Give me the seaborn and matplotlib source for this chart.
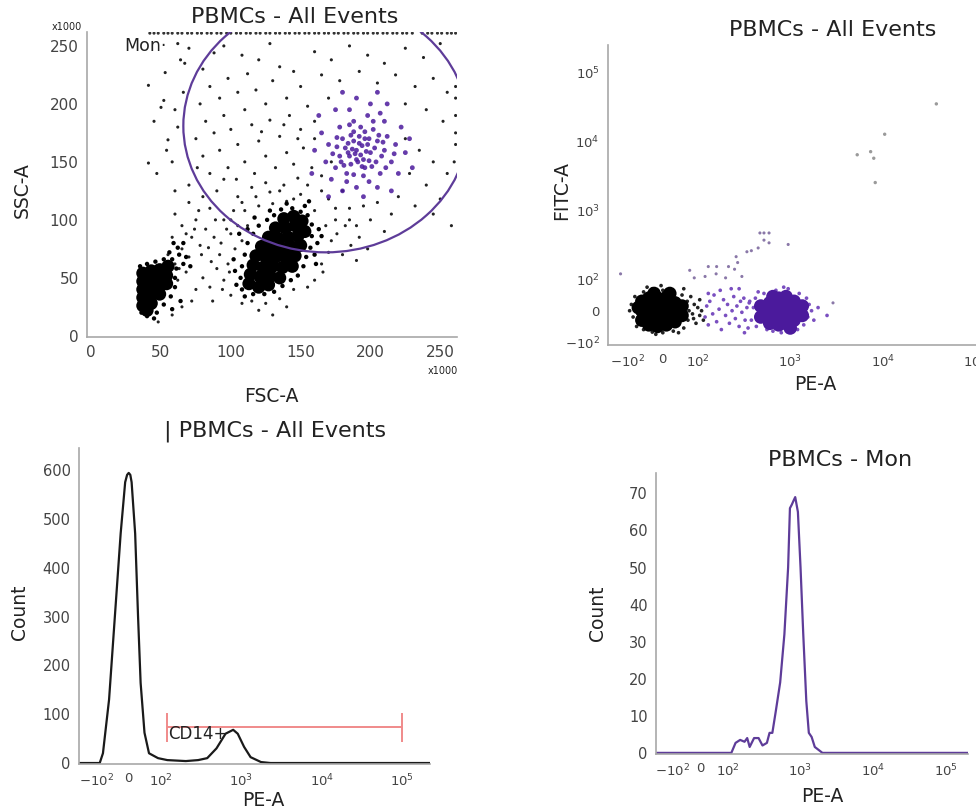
import numpy as np
import pandas as pd
import matplotlib
matplotlib.use("Agg")
import matplotlib.pyplot as plt
from matplotlib.patches import Ellipse
from matplotlib.ticker import FixedLocator, MultipleLocator
import seaborn as sns

# ------------------------------------------------------------------
# Panel 1: FSC-A vs SSC-A (values x1000), all events
# ------------------------------------------------------------------
lymph_core = [(113,45),(120,42),(127,44),(114,53),(121,51),(128,52),(135,50),(116,61),(123,59),
              (130,60),(137,59),(144,60),(118,69),(125,68),(132,68),(139,68),(146,69),(122,77),
              (129,76),(136,76),(143,77),(150,78),(127,85),(134,84),(141,85),(148,86),(153,90),
              (132,93),(139,93),(146,95),(151,99),(138,101),(145,103)]
small_core = [(37,26),(37,33),(37,40),(37,47),(37,54),(43,28),(43,35),(43,42),(43,49),(43,56),
              (49,36),(49,43),(49,50),(49,57),(54,45),(54,52),(55,60),(40,22)]
blob_halo = [(36,20),(40,17),(47,20),(52,27),(57,34),(60,42),(60,50),(61,58),(58,66),(52,66),
             (46,64),(40,62),(35,60),(56,72),(63,70),(66,62),(64,30),(58,23),(45,15),
             (108,40),(107,50),(108,60),(110,70),(112,80),(116,88),(120,95),(126,100),(131,104),
             (136,109),(144,110),(150,107),(155,104),(158,96),(158,86),(157,76),(154,68),(152,60),
             (148,52),(143,48),(137,43),(131,38),(124,36),(116,36),(110,34),(104,44),(103,56),
             (160,70),(162,80),(163,92),(153,112),(128,108),(117,102),(62,76),(68,68),(66,80),
             (59,80),(71,60),(106,88),(102,66),(161,62),(165,86),(156,116),(140,114),(112,92)]
sparse_p1 = [(41,216),(52,203),(64,238),(67,235),(53,227),(50,197),(60,195),(62,180),(55,169),
             (54,160),(41,149),(47,140),(58,150),(66,210),(45,185),(70,248),(62,252),
             (80,230),(88,244),(95,250),(108,242),(120,238),(128,252),(85,215),(98,222),(112,226),
             (135,232),(78,200),(92,205),(105,210),(118,212),(130,220),(145,228),(82,185),(95,190),
             (110,195),(125,200),(140,205),(150,215),(75,170),(88,175),(100,178),(115,182),
             (128,186),(142,190),(155,198),(80,155),(92,160),(105,165),(120,168),(135,172),
             (150,178),(160,185),(85,140),(98,145),(110,150),(125,155),(140,158),(152,162),
             (160,245),(172,238),(185,250),(198,242),(210,235),(225,248),(238,240),(250,252),
             (165,225),(178,220),(192,228),(205,218),(218,225),(232,215),(245,222),(255,210),
             (170,205),(225,200),(240,195),(252,185),(261,165),(261,175),(261,190),(261,205),
             (261,215),(260,150),(225,170),(235,160),(245,150),(255,140),(228,140),(240,130),
             (250,118),(220,120),(232,112),(245,105),(258,95),(215,105),(105,120),(115,128),
             (125,132),(135,125),(145,118),(155,130),(165,138),(110,108),(120,112),(130,114),
             (140,116),(150,122),(160,108),(170,118),(100,100),(175,100),(185,110),(180,125),
             (190,95),(200,100),(55,70),(60,62),(65,75),(70,68),(72,85),(78,78),(82,92),(88,85),
             (92,70),(95,100),(100,88),(103,75),(65,95),(58,85),(75,100),(85,110),(90,58),
             (98,62),(105,95),(68,55),(80,50),(62,48),(75,40),(85,42),(95,48),(108,82),(112,95),
             (60,105),(70,115),(80,120),(90,125),(70,130),(60,125),(100,35),(108,28),(115,30),
             (125,28),(135,32),(145,40),(155,42),(120,22),(140,25),(58,18),(65,25),(72,30),
             (48,12),(165,62),(170,72),(172,82),(176,88),(180,70),(186,78),(192,85),(166,55),
             (190,65),(168,95),(160,48),(182,95),(198,75),(130,18),(95,135),(76,145),(210,90),
             (68,88),(74,92),(79,70),(86,64),(93,80),(97,92),(102,108),(108,115),(118,120),
             (128,124),(138,130),(148,136),(158,145),(117,140),(132,145),(145,148),(104,135),
             (89,100),(77,108),(84,76),(63,58),(99,55),(94,40),(87,30),(165,125),(175,110),
             (185,100),(195,112),(205,115),(172,150),(160,170),(148,170),(138,182),(122,176)]
mon_events = [(185,155),(190,160),(195,152),(198,165),(188,168),(182,162),(200,158),(192,172),
              (186,148),(196,145),(204,150),(205,168),(178,155),(180,170),(193,180),(202,178),
              (210,160),(175,145),(183,140),(195,138),(207,140),(212,172),(188,185),(198,190),
              (178,180),(170,165),(215,150),(172,135),(190,128),(205,128),(218,165),(185,195),
              (200,200),(210,185),(168,150),(220,140),(175,195),(165,175),(212,200),(222,180),
              (180,125),(195,120),(160,160),(225,158),(170,120),(215,125),(190,205),(205,210),
              (180,210),(163,190),(228,170),(158,140),(230,145),(189,157),(194,164),(187,161),
              (197,159),(191,150),(184,166),(199,170),(201,146),(193,156),(186,173),(203,162),
              (179,150),(208,155),(196,176),(183,133),(211,145),(176,163),(190,152),(192,166),
              (196,170),(184,158),(188,176),(199,151),(206,173),(181,147),(194,146),(185,182),
              (202,185),(209,167),(176,171),(173,157),(217,157),(199,133),(188,139),(207,192)]
saturated_fsc = [42,45,48,52,55,58,62,65,69,72,76,79,83,86,90,93,97,100,104,107,111,114,118,
                 121,125,128,132,135,139,142,146,149,153,156,160,163,167,170,174,177,181,184,
                 188,191,195,198,202,205,209,212,216,219,223,226,230,237,241,244,248,251,255,258,261]
saturated_ssc = 261
mon_gate_center = (168, 181)
mon_gate_size = (204, 218)

# ------------------------------------------------------------------
# Panel 2: PE-A vs FITC-A, all events
# ------------------------------------------------------------------
neg_core = [(-60,-30),(-60,0),(-60,30),(-40,-45),(-40,-15),(-40,15),(-40,40),(-15,-50),(-15,-20),
            (-15,10),(-15,40),(10,-45),(10,-15),(10,15),(10,42),(35,-35),(35,-5),(35,25),
            (55,-15),(55,15),(-70,10),(-25,55),(20,55)]
neg_halo = [(-85,-20),(-90,20),(-80,45),(-75,-50),(-55,60),(-30,70),(0,65),(30,62),(55,50),
            (70,30),(75,0),(72,-30),(60,-55),(30,-65),(0,-70),(-30,-68),(-55,-60),(80,45),
            (85,-10),(90,20),(95,-40),(100,10),(105,35),(88,-25),(-95,0),(-20,-75),(45,-70),
            (-5,80),(60,70),(-45,75),(110,0),(115,-30),(105,-15)]
pos_core = [(480,-20),(480,15),(600,-40),(600,-8),(600,25),(750,-45),(750,-15),(750,15),(750,40),
            (900,-40),(900,-10),(900,20),(900,45),(1100,-30),(1100,0),(1100,30),(1350,-15),
            (1350,15),(650,45),(1000,-55)]
pos_halo = [(380,-30),(400,10),(420,40),(430,-50),(520,55),(560,-60),(700,65),(800,-70),(950,70),
            (1050,-65),(1250,55),(1400,-45),(1550,-20),(1600,20),(1700,0),(1500,40),(1200,-60),
            (650,-65),(850,75),(1800,-30),(2000,10),(2500,-15),(450,60),(360,25),
            (120,-20),(125,15),(130,-45),(135,30),(145,-10),(150,50),(160,-35),(170,5),(180,-60),
            (190,35),(200,-15),(210,20),(220,-40),(235,0),(245,45),(255,-25),(265,15),(280,-50),
            (290,30),(300,-5),(315,40),(325,-30),(340,10),(350,-55),(365,30),(130,55),(175,65),
            (230,70),(280,70),(320,-70)]
diag_events = [(-120,120),(77,135),(130,153),(158,120),(160,153),(215,153),(250,140),(260,213),
               (270,175),(340,251),(380,260),(450,285),(470,470),(520,470),(590,470),(590,338),
               (520,370),(950,320),(2900,25),(200,105),(300,110),(120,110),(90,105)]
bright_events = [(5300,6400),(7400,7100),(8000,5700),(8300,2530),(10500,12700),(38000,35000)]

# ------------------------------------------------------------------
# Panel 3 / 4: PE-A histograms
# ------------------------------------------------------------------
all_pe = [-165,-90,-80,-61,-43,-25,-11,-5,0,5,9,20,29,37,49,63,91,120,204,290,376,490,635,
          790,900,1080,1300,1750,2300,220000]
all_count = [0,0,20,130,300,470,575,590,594,590,575,470,300,164,62,20,10,6,4,6,10,30,60,
             68,60,33,12,2,0,0]
cd14_gate = (120, 100000)
cd14_level = 74

mon_pe = [-170,112,128,148,170,185,200,230,265,300,345,375,410,455,525,600,675,715,760,800,
          845,920,1000,1090,1200,1300,1420,1570,2000,200000]
mon_count = [0,0,2.7,3.5,3,4,1.6,4,4,2,2.7,5.4,5.4,11,19,32,50,66,67,68,69,65,50,32,14,5.4,
             4.3,1.6,0,0]

log_ticks = [-100, 0, 100, 1000, 10000, 100000]
log_labels = ['$-10^2$', '0', '$10^2$', '$10^3$', '$10^4$', '$10^5$']

PURPLE = '#4b1a9c'
GATE = '#5e3c99'
GRAY = '#a8a8a8'

sns.set_theme(style='white')
plt.rcParams['font.family'] = ['DejaVu Sans']
plt.rcParams['mathtext.fontset'] = 'dejavusans'

W, H = 976, 811
fig = plt.figure(figsize=(W / 100, H / 100), dpi=100)


def box(l, t, r, b):
    return [l / W, 1 - b / H, (r - l) / W, (b - t) / H]


def ftext(x, y, s, **kw):
    fig.text(x / W, 1 - y / H, s, ha='center', va='center', color='#222', **kw)


def pts(lst):
    return pd.DataFrame(lst, columns=['x', 'y'])


def style(ax, size=11):
    sns.despine(ax=ax)
    for s in ['left', 'bottom']:
        ax.spines[s].set_color(GRAY)
        ax.spines[s].set_linewidth(1.2)
    ax.tick_params(which='major', length=4, width=1, color=GRAY, labelcolor='#444',
                   labelsize=size, pad=2)
    ax.tick_params(which='minor', length=2.5, width=0.7, color='#c4c4c4')
    ax.set_xlabel('')
    ax.set_ylabel('')


def symlog_axis(axis, lo, hi, linscale):
    axis._set_axes_scale('symlog', linthresh=100, linscale=linscale)
    axis.set_major_locator(FixedLocator(log_ticks))
    axis.set_ticklabels(log_labels)
    minors = [m * 10 ** e for e in range(2, 6) for m in range(2, 10)]
    minors += [-m * 10 for m in range(1, 10)] + [m * 10 for m in range(1, 10)] + [-200]
    axis.set_minor_locator(FixedLocator([v for v in minors if lo <= v <= hi]))


# ---- Panel 1 ----
ax1 = fig.add_axes(box(87, 32, 457, 337))
sns.scatterplot(data=pts(sparse_p1), x='x', y='y', s=5, color='#222', edgecolor='none', ax=ax1)
sns.scatterplot(data=pts(blob_halo), x='x', y='y', s=10, color='black', edgecolor='none', ax=ax1)
sns.scatterplot(data=pts(lymph_core), x='x', y='y', s=90, color='black', edgecolor='none', ax=ax1)
sns.scatterplot(data=pts(small_core), x='x', y='y', s=90, color='black', edgecolor='none', ax=ax1)
sns.scatterplot(data=pts(mon_events), x='x', y='y', s=12, color=PURPLE, edgecolor='none',
                alpha=0.85, ax=ax1)
sns.scatterplot(x=saturated_fsc, y=[saturated_ssc] * len(saturated_fsc), s=5, color='#333',
                edgecolor='none', ax=ax1)
ax1.add_patch(Ellipse(mon_gate_center, mon_gate_size[0], mon_gate_size[1], fill=False,
                      edgecolor=GATE, linewidth=1.6, zorder=5))
ax1.set_xlim(-3, 262)
ax1.set_ylim(-1, 262)
ax1.xaxis.set_major_locator(FixedLocator([0, 50, 100, 150, 200, 250]))
ax1.yaxis.set_major_locator(FixedLocator([0, 50, 100, 150, 200, 250]))
ax1.xaxis.set_minor_locator(MultipleLocator(5))
ax1.yaxis.set_minor_locator(MultipleLocator(5))
style(ax1)
ax1.text(0.10, 0.955, 'Mon\u00b7', transform=ax1.transAxes, fontsize=12.5, color='#222',
         ha='left', va='center')
ftext(295, 17, 'PBMCs - All Events', fontsize=16)
ftext(67, 27, 'x1000', fontsize=7)
ftext(443, 371, 'x1000', fontsize=7)
ftext(22, 190, 'SSC-A', fontsize=13.5, rotation=90)
ftext(271, 396, 'FSC-A', fontsize=13.5)

# ---- Panel 2 ----
ax2 = fig.add_axes(box(608, 45, 976, 345))
sns.scatterplot(data=pts(neg_halo), x='x', y='y', s=7, color='#222', edgecolor='none', ax=ax2)
sns.scatterplot(data=pts(pos_halo), x='x', y='y', s=7, color='#7a4fc0', edgecolor='none', ax=ax2)
sns.scatterplot(data=pts(neg_core), x='x', y='y', s=95, color='black', edgecolor='none', ax=ax2)
sns.scatterplot(data=pts(pos_core), x='x', y='y', s=95, color=PURPLE, edgecolor='none', ax=ax2)
sns.scatterplot(data=pts(diag_events), x='x', y='y', s=5, color='#8a78a8', edgecolor='none', ax=ax2)
sns.scatterplot(data=pts(bright_events), x='x', y='y', s=6, color='#9a9a9a', edgecolor='none', ax=ax2)
symlog_axis(ax2.xaxis, -164, 1.02e5, 0.34)
symlog_axis(ax2.yaxis, -110, 2.5e5, 0.41)
ax2.set_xlim(-164, 1.02e5)
ax2.set_ylim(-110, 2.5e5)
style(ax2, 9.5)
ftext(833, 30, 'PBMCs - All Events', fontsize=16)
ftext(562, 190, 'FITC-A', fontsize=13.5, rotation=90)
ftext(815, 384, 'PE-A', fontsize=13.5)

# ---- Panel 3 ----
ax3 = fig.add_axes(box(79, 448, 430, 764))
sns.lineplot(x=all_pe, y=all_count, color='#1a1a1a', linewidth=1.6, ax=ax3)
ax3.hlines(cd14_level, cd14_gate[0], cd14_gate[1], color='#f08a8a', linewidth=1.4, zorder=4)
ax3.vlines(cd14_gate, cd14_level - 30, cd14_level + 28, color='#f08a8a', linewidth=1.4, zorder=4)
ax3.text(cd14_gate[0] * 1.03, cd14_level - 14, 'CD14+', fontsize=12, color='#222',
         ha='left', va='center', zorder=6)
symlog_axis(ax3.xaxis, -165, 2.2e5, 0.36)
ax3.set_xlim(-165, 2.2e5)
ax3.set_ylim(-2, 645)
ax3.yaxis.set_major_locator(FixedLocator([0, 100, 200, 300, 400, 500, 600]))
ax3.yaxis.set_minor_locator(MultipleLocator(10))
style(ax3, 10.5)
ax3.tick_params(axis='x', labelsize=9.5)
ftext(275, 431, '| PBMCs - All Events', fontsize=16)
ftext(20, 612, 'Count', fontsize=13.5, rotation=90)
ftext(263, 800, 'PE-A', fontsize=13.5)

# ---- Panel 4 ----
ax4 = fig.add_axes(box(656, 473, 968, 754))
sns.lineplot(x=mon_pe, y=mon_count, color=GATE, linewidth=1.6, ax=ax4)
symlog_axis(ax4.xaxis, -170, 2e5, 0.34)
ax4.set_xlim(-170, 2e5)
ax4.set_ylim(-0.3, 75.5)
ax4.yaxis.set_major_locator(FixedLocator([0, 10, 20, 30, 40, 50, 60, 70]))
ax4.yaxis.set_minor_locator(MultipleLocator(1))
style(ax4, 10.5)
ax4.tick_params(axis='x', labelsize=9.5)
ftext(840, 460, 'PBMCs - Mon', fontsize=16)
ftext(597, 613, 'Count', fontsize=13.5, rotation=90)
ftext(822, 796, 'PE-A', fontsize=13.5)

fig.savefig('out.png', dpi=100)
